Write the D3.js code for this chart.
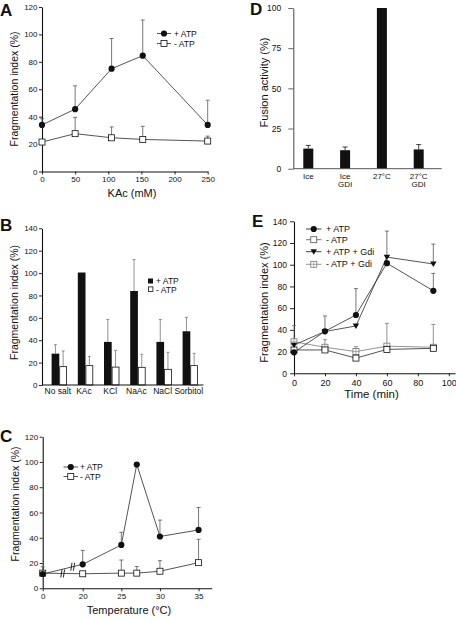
<!DOCTYPE html>
<html><head><meta charset="utf-8">
<script src="https://cdn.jsdelivr.net/npm/d3@7"></script>
<style>
body{margin:0;background:#fff}
svg{display:block}
text{font-family:"Liberation Sans",Arial,Helvetica,sans-serif;fill:#111}
</style>
</head><body>
<svg id="c" width="456" height="619"></svg>
<script>
// ---------- DATA ----------
// Panel A: KAc titration
const kacX = [0, 50, 105, 152, 250];
const kacPlusATP = [34, 45.5, 75, 84.5, 34];
const kacPlusATPErr = [38.5, 62.5, 97, 110.5, 52];
const kacMinusATP = [21.5, 27.6, 24.6, 23.4, 22.2];
const kacMinusATPErr = [21.5, 39.5, 32.5, 33, 25.8];
const kacTicks = [0, 50, 100, 150, 200, 250];

// Panel B: salts
const saltCats = ["No salt", "KAc", "KCl", "NaAc", "NaCl", "Sorbitol"];
const saltPlusATP = [28, 100.5, 38.5, 84, 38.5, 48];
const saltPlusATPErr = [36, 100.5, 58.5, 112, 58.5, 60.5];
const saltMinusATP = [16.4, 17.3, 16, 15.8, 14, 17.3];
const saltMinusATPErr = [30.4, 25.6, 31, 27.4, 29.2, 28.3];

// Panel C: temperature
const tempX = [0, 20, 25, 27, 30, 35];
const tempPlusATP = [11.3, 19, 34.3, 98, 41, 46.2];
const tempPlusATPErr = [17, 30, 44.3, 98, 54, 64];
const tempMinusATP = [12, 11.5, 12, 12, 13.5, 20.3];
const tempMinusATPErr = [12, 11.5, 22.4, 17.2, 21.9, 38.8];
const tempTicks = [0, 20, 25, 30, 35];
const tempBreakPlus = 15, tempBreakMinus = 10;

// Panel D: fusion
const fusionCats = ["Ice", "Ice GDI", "27°C", "27°C GDI"];
const fusionValues = [12.5, 11.5, 100, 12];
const fusionErr = [14.5, 13.5, 100, 15];
const fusionTicks = [0, 25, 50, 75, 100];

// Panel E: time course
const timeX = [0, 20, 40, 60, 90];
const timePlusATP = [19.3, 38.7, 53.7, 101.4, 76];
const timePlusATPErr = [19.3, 52.8, 78, 101.4, 92];
const timeMinusATP = [21.5, 21.5, 14, 22, 23];
const timeMinusATPErr = [21.5, 21.5, 14, 22, 23];
const timePlusGdi = [26, 38.5, 43.6, 107, 100.7];
const timePlusGdiErr = [26, 38.5, 43.6, 131, 119];
const timeMinusGdi = [29, 24, 20, 25, 24];
const timeMinusGdiErr = [44, 31, 24.5, 46, 45];
const timeTicks = [0, 20, 40, 60, 80, 100];

const fragTicks120 = [0, 20, 40, 60, 80, 100, 120];
const fragTicks140 = [0, 20, 40, 60, 80, 100, 120, 140];

// ---------- DRAW ----------
const svg = d3.select("#c");
const LINE = "#2a2a2a", ERR = "#555";

function styleAxis(g, fs) {
  g.selectAll("path.domain").attr("stroke", "#111").attr("stroke-width", 1.1);
  g.selectAll(".tick line").attr("stroke", "#111").attr("stroke-width", 0.9);
  g.selectAll(".tick text").attr("font-size", fs || 8).attr("font-family", "Liberation Sans, Arial, sans-serif").attr("fill", "#222");
}
function yTitle(x, y, t, fs) {
  svg.append("text").attr("transform", `translate(${x},${y}) rotate(-90)`)
    .attr("text-anchor", "middle").attr("font-size", fs || 10.5).text(t);
}
function xTitle(x, y, t, fs) {
  svg.append("text").attr("x", x).attr("y", y).attr("text-anchor", "middle")
    .attr("font-size", fs || 11).text(t);
}
function panelLabel(x, y, t) {
  svg.append("text").attr("x", x).attr("y", y).attr("font-size", 17)
    .attr("font-weight", "bold").text(t);
}
function drawSymbol(g, kind, cx, cy, color) {
  color = color || "#111";
  if (kind === "circle") {
    g.append("circle").attr("cx", cx).attr("cy", cy).attr("r", 3.1).attr("fill", "#111");
  } else if (kind === "square") {
    g.append("rect").attr("x", cx - 3).attr("y", cy - 3).attr("width", 6).attr("height", 6)
      .attr("fill", "#fff").attr("stroke", color).attr("stroke-width", 0.8);
  } else if (kind === "tri") {
    g.append("path").attr("d", `M${cx - 3.2},${cy - 2.4}L${cx + 3.2},${cy - 2.4}L${cx},${cy + 3}Z`).attr("fill", "#111");
  } else if (kind === "xsquare") {
    g.append("rect").attr("x", cx - 3).attr("y", cy - 3).attr("width", 6).attr("height", 6)
      .attr("fill", "#fff").attr("stroke", color).attr("stroke-width", 0.8);
    g.append("path").attr("d", `M${cx - 3},${cy}L${cx + 3},${cy}M${cx},${cy - 3}L${cx},${cy + 3}`)
      .attr("stroke", color).attr("stroke-width", 0.6);
  }
}
function errBar(g, x, y0, y1, color, cap) {
  if (Math.abs(y0 - y1) < 0.5) return;
  g.append("line").attr("x1", x).attr("x2", x).attr("y1", y0).attr("y2", y1)
    .attr("stroke", color || ERR).attr("stroke-width", 0.8);
  const c = cap == null ? 2 : cap;
  g.append("line").attr("x1", x - c).attr("x2", x + c).attr("y1", y1).attr("y2", y1)
    .attr("stroke", color || ERR).attr("stroke-width", 0.8);
}
function lineSeries(x, y, xs, ys, errs, kind, color) {
  const g = svg.append("g");
  const line = d3.line().x((d, i) => x(xs[i])).y(d => y(d));
  g.append("path").attr("d", line(ys)).attr("fill", "none")
    .attr("stroke", color || LINE).attr("stroke-width", 0.8);
  return g;
}
function seriesMarks(x, y, xs, ys, errs, kind, color) {
  const g = svg.append("g");
  ys.forEach((v, i) => errBar(g, x(xs[i]), y(v), y(errs[i]), color && color !== "#111" ? color : ERR));
  ys.forEach((v, i) => drawSymbol(g, kind, x(xs[i]), y(v), color));
}
function legendRow(x0, x1, tx, yy, kind, label, color, fs) {
  svg.append("line").attr("x1", x0).attr("x2", x1).attr("y1", yy).attr("y2", yy)
    .attr("stroke", color || LINE).attr("stroke-width", 0.8);
  drawSymbol(svg, kind, (x0 + x1) / 2, yy, color);
  svg.append("text").attr("x", tx).attr("y", yy + 3).attr("font-size", fs || 8.5).text(label);
}

// ===== Panel A =====
{
  const x = d3.scaleLinear().domain([0, 250]).range([42, 207.7]);
  const y = d3.scaleLinear().domain([0, 120]).range([171.5, 7]);
  svg.append("g").attr("transform", "translate(42,0)")
    .call(d3.axisLeft(y).tickValues(fragTicks120).tickSize(3).tickPadding(1.5).tickSizeOuter(0))
    .call(styleAxis);
  svg.append("g").attr("transform", "translate(0,171.5)")
    .call(d3.axisBottom(x).tickValues(kacTicks).tickSize(3).tickPadding(2).tickSizeOuter(0))
    .call(styleAxis);
  lineSeries(x, y, kacX, kacMinusATP);
  lineSeries(x, y, kacX, kacPlusATP);
  seriesMarks(x, y, kacX, kacMinusATP, kacMinusATPErr, "square");
  seriesMarks(x, y, kacX, kacPlusATP, kacPlusATPErr, "circle");
  legendRow(157, 171, 174, 33.5, "circle", "+ ATP");
  legendRow(157, 171, 174, 43.5, "square", "- ATP");
  yTitle(17.5, 89, "Fragmentation index (%)");
  xTitle(132, 197, "KAc (mM)");
  panelLabel(0, 16, "A");
}

// ===== Panel B =====
{
  const x = d3.scaleBand().domain(saltCats).range([46.2, 203.4]);
  const bw = 7.7;
  const sub = d3.scaleBand().domain(["+ ATP", "- ATP"]).range([x.bandwidth() / 2 - bw, x.bandwidth() / 2 + bw]);
  const y = d3.scaleLinear().domain([0, 140]).range([385, 228.3]);
  svg.append("g").attr("transform", "translate(42,0)")
    .call(d3.axisLeft(y).tickValues(fragTicks140).tickSize(3).tickPadding(1.5).tickSizeOuter(0))
    .call(styleAxis);
  const g = svg.append("g");
  saltCats.forEach((c, i) => {
    const xp = x(c) + sub("+ ATP"), xm = x(c) + sub("- ATP");
    errBar(g, xp + bw / 2, y(saltPlusATP[i]), y(saltPlusATPErr[i]), "#777", 1.5);
    errBar(g, xm + bw / 2, y(saltMinusATP[i]), y(saltMinusATPErr[i]), "#777", 1.5);
    g.append("rect").attr("x", xp).attr("y", y(saltPlusATP[i])).attr("width", bw)
      .attr("height", y(0) - y(saltPlusATP[i])).attr("fill", "#111");
    g.append("rect").attr("x", xm + 0.4).attr("y", y(saltMinusATP[i])).attr("width", bw - 0.8)
      .attr("height", y(0) - y(saltMinusATP[i])).attr("fill", "#fff").attr("stroke", "#111").attr("stroke-width", 0.8);
  });
  svg.append("line").attr("x1", 42).attr("x2", 203.4).attr("y1", 385).attr("y2", 385)
    .attr("stroke", "#111").attr("stroke-width", 1.1);
  saltCats.forEach(c => {
    svg.append("text").attr("x", x(c) + x.bandwidth() / 2 - 1.5).attr("y", 394)
      .attr("text-anchor", "middle").attr("font-size", 8.5).text(c);
  });
  svg.append("rect").attr("x", 148).attr("y", 278.5).attr("width", 5).attr("height", 5).attr("fill", "#111");
  svg.append("rect").attr("x", 148.4).attr("y", 286.9).attr("width", 4.5).attr("height", 4.5).attr("fill", "#fff").attr("stroke", "#111").attr("stroke-width", 0.8);
  svg.append("text").attr("x", 156).attr("y", 284).attr("font-size", 8.5).text("+ ATP");
  svg.append("text").attr("x", 156).attr("y", 292.5).attr("font-size", 8.5).text("- ATP");
  yTitle(18, 302.5, "Fragmentation index (%)");
  panelLabel(0, 231, "B");
}

// ===== Panel C =====
{
  const x = d3.scaleLinear().domain([0, 20, 36.7]).range([42.7, 82.7, 211.7]);
  const y = d3.scaleLinear().domain([0, 120]).range([588.3, 436.7]);
  svg.append("g").attr("transform", "translate(42.7,0)")
    .call(d3.axisLeft(y).tickValues(fragTicks120).tickSize(3).tickPadding(1.5).tickSizeOuter(0))
    .call(styleAxis);
  svg.append("g").attr("transform", "translate(0,588.3)")
    .call(d3.axisBottom(x).tickValues(tempTicks).tickSize(3).tickPadding(2).tickSizeOuter(0))
    .call(styleAxis);
  lineSeries(x, y, tempX, tempMinusATP);
  lineSeries(x, y, tempX, tempPlusATP);
  // axis-break marks on the lines
  function breakMark(xs, ys, at) {
    const yi = d3.scaleLinear().domain(xs).range(ys.map(v => v))(at);
    const cx = x(at), cy = y(yi);
    [-1.3, 1.3].forEach(o => {
      svg.append("line").attr("x1", cx + o - 0.6).attr("x2", cx + o + 0.6)
        .attr("y1", cy + 4).attr("y2", cy - 4).attr("stroke", "#111").attr("stroke-width", 0.9);
    });
  }
  breakMark(tempX, tempMinusATP, tempBreakMinus);
  breakMark(tempX, tempPlusATP, tempBreakPlus);
  seriesMarks(x, y, tempX, tempMinusATP, tempMinusATPErr, "square");
  seriesMarks(x, y, tempX, tempPlusATP, tempPlusATPErr, "circle");
  legendRow(63.5, 78, 80, 467, "circle", "+ ATP");
  legendRow(63.5, 78, 80, 476.5, "square", "- ATP");
  yTitle(19, 504, "Fragmentation index (%)");
  xTitle(129, 614, "Temperature (°C)");
  panelLabel(0, 442, "C");
}

// ===== Panel D =====
{
  const x = d3.scalePoint().domain(fusionCats).range([308.3, 418.7]);
  const y = d3.scaleLinear().domain([0, 100]).range([168.7, 8]);
  const ax = svg.append("g").attr("transform", "translate(293.3,0)")
    .call(d3.axisLeft(y).tickValues(fusionTicks).tickSize(5).tickPadding(7).tickSizeOuter(0))
    .call(g => styleAxis(g, 8.5));
  ax.select("path.domain").attr("stroke", "#555");
  ax.selectAll(".tick line").attr("stroke", "#555");
  const g = svg.append("g");
  const bw = 10;
  fusionCats.forEach((c, i) => {
    errBar(g, x(c), y(fusionValues[i]), y(fusionErr[i]), "#111", 2.5);
    g.append("rect").attr("x", x(c) - bw / 2).attr("y", y(fusionValues[i])).attr("width", bw)
      .attr("height", y(0) - y(fusionValues[i])).attr("fill", "#111");
  });
  svg.append("line").attr("x1", 293.3).attr("x2", 441.7).attr("y1", 168.7).attr("y2", 168.7)
    .attr("stroke", "#555").attr("stroke-width", 1);
  fusionCats.forEach(c => {
    const parts = c.endsWith(" GDI") ? [c.slice(0, -4), "GDI"] : [c];
    parts.forEach((s, k) => {
      svg.append("text").attr("x", x(c)).attr("y", 179 + k * 8.2)
        .attr("text-anchor", "middle").attr("font-size", 8).text(s);
    });
  });
  yTitle(268, 82.5, "Fusion activity (%)", 11);
  panelLabel(250, 15, "D");
}

// ===== Panel E =====
{
  const x = d3.scaleLinear().domain([0, 104]).range([294, 455]);
  const y = d3.scaleLinear().domain([0, 140]).range([373.3, 221.3]);
  svg.append("g").attr("transform", "translate(294,0)")
    .call(d3.axisLeft(y).tickValues(fragTicks140).tickSize(4).tickPadding(3).tickSizeOuter(0))
    .call(g => styleAxis(g, 8.5));
  svg.append("g").attr("transform", "translate(0,373.3)")
    .call(d3.axisBottom(x).tickValues(timeTicks).tickSize(3).tickPadding(3).tickSizeOuter(0))
    .call(g => styleAxis(g, 9));
  lineSeries(x, y, timeX, timeMinusGdi, null, null, "#777");
  lineSeries(x, y, timeX, timeMinusATP);
  lineSeries(x, y, timeX, timePlusGdi);
  lineSeries(x, y, timeX, timePlusATP);
  seriesMarks(x, y, timeX, timeMinusGdi, timeMinusGdiErr, "xsquare", "#777");
  seriesMarks(x, y, timeX, timeMinusATP, timeMinusATPErr, "square");
  seriesMarks(x, y, timeX, timePlusGdi, timePlusGdiErr, "tri");
  seriesMarks(x, y, timeX, timePlusATP, timePlusATPErr, "circle");
  legendRow(306, 321.5, 326, 229, "circle", "+ ATP", "#111", 9);
  legendRow(306, 321.5, 326, 239.7, "square", "- ATP", "#555", 9);
  legendRow(306, 321.5, 326, 251.7, "tri", "+ ATP + Gdi", "#111", 9);
  legendRow(306, 321.5, 326, 264.3, "xsquare", "- ATP + Gdi", "#777", 9);
  yTitle(268, 302.5, "Fragmentation index (%)", 11);
  xTitle(371.5, 398, "Time (min)", 11.5);
  panelLabel(252, 227, "E");
}
</script>
</body></html>
